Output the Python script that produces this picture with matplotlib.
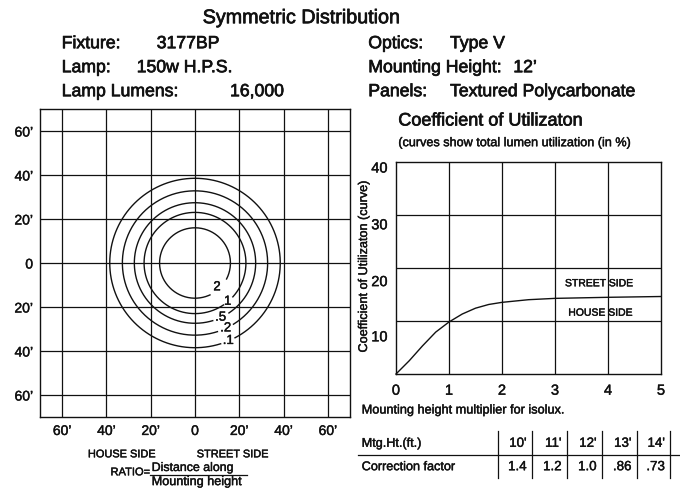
import numpy as np
import matplotlib
matplotlib.use("Agg")
import matplotlib.pyplot as plt
from matplotlib.lines import Line2D
import matplotlib.patheffects as pe

plt.rcParams['font.family'] = ['Liberation Sans', 'DejaVu Sans']

W, H = 680, 489
INK = '#111111'


def thick(size):
    lw = 0.5 if size >= 12 else 0.3
    return [pe.withStroke(linewidth=lw, foreground=INK)]


# ---------------- data ----------------
header_left_keys = ["Fixture:", "Lamp:", "Lamp Lumens:"]
header_left_vals = ["3177BP", "150w H.P.S.", "16,000"]
header_right_keys = ["Optics:", "Mounting Height:", "Panels:"]
header_right_vals = ["Type V", "12\u2019", "Textured Polycarbonate"]

# isolux (footcandle) circles, radius in feet
iso_labels = ['2', '1', '.5', '.2', '.1']
iso_radius_ft = [16.0, 23.0, 27.4, 32.8, 38.5]
iso_gap_from_deg = [-65, -56, -73, -72, -72.5]
iso_gap_to_deg = [-27, -42, -56, -58, -62]
iso_label_deg = [-48, -50, -65, -65, -67]
iso_label_rfrac = [0.93, 1.0, 1.0, 1.0, 1.0]

grid_ft = [-60, -40, -20, 0, 20, 40, 60]
grid_labels = ["60\u2019", "40\u2019", "20\u2019", "0", "20\u2019", "40\u2019", "60\u2019"]

# coefficient of utilization curve
cu_x = [0, 0.25, 0.5, 0.75, 1.0, 1.25, 1.5, 1.75, 2.0, 2.5, 3.0, 4.0, 5.0]
cu_y = [0, 2.5, 5.3, 7.9, 9.8, 11.3, 12.4, 13.1, 13.5, 14.0, 14.25, 14.45, 14.6]
cu_xticks = [0, 1, 2, 3, 4, 5]
cu_grid_y = [10, 20, 30]
cu_ytick_pos = [39.0, 28.3, 17.6, 7.2]
cu_ytick_labels = ['40', '30', '20', '10']

# correction table
mtg_heights = ["10'", "11'", "12'", "13'", "14'"]
correction = ["1.4", "1.2", "1.0", ".86", ".73"]

# ---------------- figure ----------------
fig = plt.figure(figsize=(W / 100, H / 100), dpi=100)
fig.patch.set_facecolor('white')


def px_axes(x0, y0, x1, y1):
    return fig.add_axes([x0 / W, 1 - y1 / H, (x1 - x0) / W, (y1 - y0) / H])


def T(x, y, s, size, ha='left', va='center_baseline', **kw):
    return fig.text(x / W, 1 - y / H, s, fontsize=size, ha=ha, va=va,
                    color=INK, path_effects=thick(size), **kw)


def L(x0, y0, x1, y1, lw=1.0):
    fig.add_artist(Line2D([x0 / W, x1 / W], [1 - y0 / H, 1 - y1 / H],
                          transform=fig.transFigure, color=INK, lw=lw))


# ---------------- header ----------------
T(202.7, 16.7, "Symmetric Distribution", 14.2)
left_val_x = [156.7, 136.7, 230]
right_val_x = [450, 513.3, 450]
rows_y = [42.7, 66.7, 90.7]
for k, v, vx, y in zip(header_left_keys, header_left_vals, left_val_x, rows_y):
    T(61.7, y, k, 12.7)
    T(vx, y, v, 12.7)
for k, v, vx, y in zip(header_right_keys, header_right_vals, right_val_x, rows_y):
    T(368.3, y, k, 12.7)
    T(vx, y, v, 12.7)

# ---------------- isolux chart ----------------
ax = px_axes(40, 110, 350, 418)
ax.set_xlim(-70, 70)
ax.set_ylim(-70, 70)
for g in grid_ft:
    ax.axvline(g, color=INK, lw=0.9)
    ax.axhline(g, color=INK, lw=0.9)
for r, g0, g1, la, lf, lab in zip(iso_radius_ft, iso_gap_from_deg, iso_gap_to_deg,
                                  iso_label_deg, iso_label_rfrac, iso_labels):
    th = np.radians(np.linspace(g1, g0 + 360, 400))
    ax.plot(r * np.cos(th), r * np.sin(th), color=INK, lw=1.0)
    a = np.radians(la)
    ax.text(r * lf * np.cos(a), r * lf * np.sin(a), lab, fontsize=9.5,
            ha='center', va='center', color=INK, path_effects=thick(9.5))
ax.set_xticks(grid_ft)
ax.set_xticklabels(grid_labels)
ax.set_yticks(grid_ft)
ax.set_yticklabels(grid_labels)
ax.tick_params(length=0, labelsize=10, colors=INK, pad=5)
for s in ax.spines.values():
    s.set_color(INK)
    s.set_linewidth(1.0)

T(121.7, 454.3, "HOUSE SIDE", 7.9, ha='center')
T(232.5, 454.3, "STREET SIDE", 7.9, ha='center')
T(110.5, 472.3, "RATIO=", 8.0)
T(151.7, 467.5, "Distance along", 8.9)
T(151.7, 481.6, "Mounting height", 9.1)
L(150, 476.3, 246.7, 476.3, lw=0.9)

# ---------------- CU chart ----------------
T(398.3, 120, "Coefficient of Utilizaton", 13)
T(398.3, 142.7, "(curves show total lumen utilization (in %)", 9.1)

bx = px_axes(396, 162.7, 661, 375)
bx.set_xlim(0, 5)
bx.set_ylim(0, 40)
for gx in cu_xticks[1:-1]:
    bx.axvline(gx, color=INK, lw=0.9)
for gy in cu_grid_y:
    bx.axhline(gy, color=INK, lw=0.9)
bx.plot(cu_x, cu_y, color=INK, lw=1.0, clip_on=False)
bx.set_xticks(cu_xticks)
bx.set_xticklabels([str(v) for v in cu_xticks])
bx.set_yticks(cu_ytick_pos)
bx.set_yticklabels(cu_ytick_labels)
bx.tick_params(length=0, labelsize=10.5, colors=INK)
bx.tick_params(axis='x', pad=7)
bx.tick_params(axis='y', pad=6)
for s in bx.spines.values():
    s.set_color(INK)
    s.set_linewidth(1.0)
T(565, 283.3, "STREET SIDE", 7.5)
T(568.3, 312.7, "HOUSE SIDE", 7.5)
T(364, 267, "Coefficient of Utilizaton (curve)", 9.1, ha='center', va='center',
  rotation=90)
T(361.7, 410, "Mounting height multiplier for isolux.", 9.15)

for a_ in (ax, bx):
    for lbl in a_.get_xticklabels() + a_.get_yticklabels():
        lbl.set_path_effects(thick(10))

# ---------------- table ----------------
col_lines = [497.7, 531.7, 566.7, 601.7, 636.7, 670]
L(358, 456, 680, 456, lw=0.9)
for cx in col_lines:
    L(cx, 431.7, cx, 479.3, lw=0.9)
T(361.7, 443.3, "Mtg.Ht.(ft.)", 9.1)
T(361.7, 466.7, "Correction factor", 9.1)
for i, (h, c) in enumerate(zip(mtg_heights, correction)):
    xr = col_lines[i + 1] - 5
    T(xr, 443.3, h, 9.6, ha='right')
    T(xr, 466.7, c, 9.6, ha='right')

fig.savefig("out.png", dpi=100, facecolor='white')
